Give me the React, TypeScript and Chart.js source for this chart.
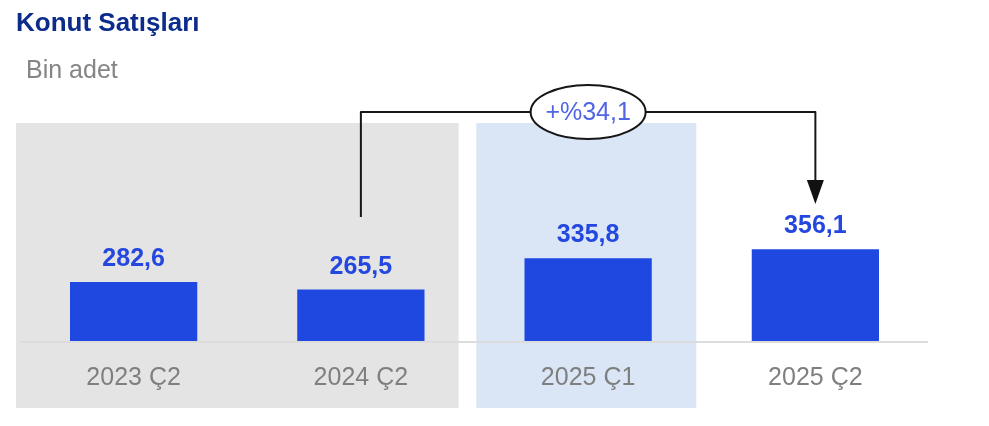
import React, { useEffect, useRef } from "react";
import { Chart, registerables } from "chart.js";

Chart.register(...registerables);

const titleText = "Konut Satışları";
const subtitleText = "Bin adet";
const categories = ["2023 Ç2", "2024 Ç2", "2025 Ç1", "2025 Ç2"];
const salesValues = [282.6, 265.5, 335.8, 356.1];
const changeLabel = "+%34,1";

const FONT = '"Liberation Sans", Arial, Helvetica, sans-serif';
const fmt = (v: number) => v.toFixed(1).replace(".", ",");

const decorPlugin = {
  id: "decor",
  beforeDraw(chart: any) {
    const { ctx, chartArea, scales } = chart;
    const x = scales.x;
    const w = x.width / categories.length;
    const top = chartArea.top - 1;
    const bottom = chartArea.bottom + 66;
    ctx.save();
    // title + subtitle
    ctx.fillStyle = "#0c2c8c";
    ctx.font = `bold 26px ${FONT}`;
    ctx.textBaseline = "alphabetic";
    ctx.textAlign = "left";
    ctx.fillText(titleText, 16, 31);
    ctx.fillStyle = "#858585";
    ctx.font = `25px ${FONT}`;
    ctx.fillText(subtitleText, 26, 78);
    // shaded regions
    ctx.fillStyle = "#e4e4e4";
    const gl = chartArea.left - 4;
    const gr = x.getPixelForValue(1) + 0.43 * w;
    ctx.fillRect(gl, top, gr - gl, bottom - top);
    ctx.fillStyle = "#dae6f5";
    const bl = x.getPixelForValue(2) - 0.492 * w;
    const br = x.getPixelForValue(2) + 0.476 * w;
    ctx.fillRect(bl, top, br - bl, bottom - top);
    ctx.restore();
  },
  afterDatasetsDraw(chart: any) {
    const { ctx, chartArea, scales } = chart;
    const x = scales.x;
    ctx.save();
    // baseline
    ctx.strokeStyle = "#dcdcdc";
    ctx.lineWidth = 2;
    ctx.beginPath();
    ctx.moveTo(chartArea.left, chartArea.bottom);
    ctx.lineTo(chartArea.right - 1, chartArea.bottom);
    ctx.stroke();
    // value labels
    const meta = chart.getDatasetMeta(0);
    ctx.fillStyle = "#2447e0";
    ctx.font = `bold 25px ${FONT}`;
    ctx.textAlign = "center";
    ctx.textBaseline = "alphabetic";
    meta.data.forEach((bar: any, i: number) => {
      ctx.fillText(fmt(salesValues[i]), bar.x, bar.y - 16);
    });
    // change annotation
    const yLine = chartArea.top - 12;
    const x1 = x.getPixelForValue(1);
    const x3 = x.getPixelForValue(3);
    const xm = x.getPixelForValue(2);
    const tip = chartArea.top + 80;
    ctx.strokeStyle = "#161616";
    ctx.lineWidth = 2;
    ctx.lineJoin = "round";
    ctx.beginPath();
    ctx.moveTo(x1, chartArea.top + 93);
    ctx.lineTo(x1, yLine);
    ctx.lineTo(x3, yLine);
    ctx.lineTo(x3, tip - 22);
    ctx.stroke();
    ctx.fillStyle = "#111111";
    ctx.beginPath();
    ctx.moveTo(x3 - 8.5, tip - 24);
    ctx.lineTo(x3 + 8.5, tip - 24);
    ctx.lineTo(x3, tip);
    ctx.closePath();
    ctx.fill();
    // ellipse
    ctx.beginPath();
    ctx.ellipse(xm, yLine, 57.5, 27, 0, 0, Math.PI * 2);
    ctx.fillStyle = "#ffffff";
    ctx.fill();
    ctx.stroke();
    ctx.fillStyle = "#5064e6";
    ctx.font = `25px ${FONT}`;
    ctx.textBaseline = "middle";
    ctx.fillText(changeLabel, xm, yLine + 1);
    ctx.restore();
  },
};

export default function App() {
  const ref = useRef<HTMLCanvasElement | null>(null);
  useEffect(() => {
    if (!ref.current) return;
    const chart = new Chart(ref.current, {
      type: "bar",
      data: {
        labels: categories,
        datasets: [
          {
            data: salesValues,
            backgroundColor: "#1f48e0",
            borderWidth: 0,
            barPercentage: 0.56,
            categoryPercentage: 1,
          },
        ],
      },
      options: {
        responsive: false,
        animation: false,
        devicePixelRatio: 1,
        layout: { padding: { left: 20, right: 60, top: 124, bottom: 0 } },
        plugins: {
          legend: { display: false },
          tooltip: { enabled: false },
        },
        scales: {
          x: {
            grid: { display: false, drawTicks: false },
            border: { display: false },
            ticks: {
              color: "#7f7f7f",
              font: { family: FONT, size: 25 },
              padding: 21,
              autoSkip: false,
              maxRotation: 0,
            },
            afterFit: (s: any) => {
              s.height = 84;
            },
          },
          y: { display: false, min: 148, max: 637 },
        },
      },
      plugins: [decorPlugin],
    } as any);
    return () => chart.destroy();
  }, []);
  return (
    <div style={{ position: "absolute", left: 0, top: 0, width: 989, height: 426, background: "#fff" }}>
      <canvas ref={ref} width={989} height={426} style={{ display: "block", width: 989, height: 426 }} />
    </div>
  );
}
